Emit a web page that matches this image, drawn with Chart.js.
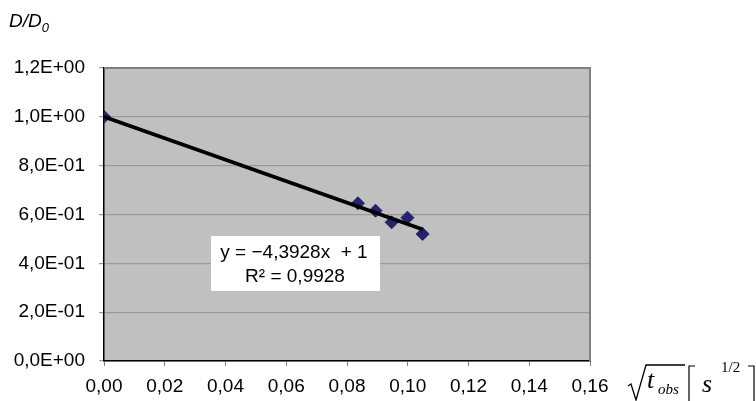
<!DOCTYPE html>
<html>
<head>
<meta charset="utf-8">
<script src="https://cdn.jsdelivr.net/npm/chart.js@4"></script>
<style>
  html, body { margin: 0; padding: 0; background: #fff; }
  #wrap { width: 756px; height: 401px; position: relative; }
</style>
</head>
<body>
<div id="wrap"><canvas id="chart" width="756" height="401"></canvas></div>
<script>
// measured points
const xVals = [0, 0.0836, 0.0894, 0.0947, 0.0999, 0.1049];
const yVals = [1.0, 0.646, 0.6155, 0.568, 0.587, 0.52];
// linear trend endpoints (y = -4,3928x + 1)
const trendX = [0, 0.105];
const trendY = [1.0, 0.5388];
const trendText = ['y = \u22124,3928x  + 1', 'R\u00b2 = 0,9928'];

const ctx = document.getElementById('chart');
const FONT = '"Liberation Sans", Arial, sans-serif';
const SERIF = '"Liberation Serif", "Times New Roman", serif';

function sciLabel(v) {
  let s = Number(v).toExponential(1);
  let parts = s.split('e');
  let exp = parseInt(parts[1]);
  let sign = exp < 0 ? '-' : '+';
  let e = String(Math.abs(exp)).padStart(2, '0');
  return parts[0].replace('.', ',') + 'E' + sign + e;
}

const decor = {
  id: 'decor',
  beforeDraw(chart) {
    const a = chart.chartArea;
    const c = chart.ctx;
    c.save();
    c.fillStyle = '#c0c0c0';
    c.fillRect(a.left, a.top, a.right - a.left, a.bottom - a.top);
    c.restore();
  },
  afterDatasetsDraw(chart) {
    const a = chart.chartArea;
    const c = chart.ctx;
    c.save();
    // top & right border
    c.strokeStyle = '#808080';
    c.lineWidth = 2;
    c.beginPath();
    c.moveTo(a.left, a.top);
    c.lineTo(a.right, a.top);
    c.lineTo(a.right, a.bottom);
    c.stroke();

    // equation box
    c.fillStyle = '#ffffff';
    c.fillRect(211, 236, 169, 55);
    c.fillStyle = '#000';
    c.font = '19px ' + FONT;
    c.textAlign = 'center';
    c.textBaseline = 'middle';
    c.fillText(trendText[0], 294, 253);
    c.fillText(trendText[1], 295, 277);

    // y axis title
    c.textAlign = 'left';
    c.font = 'italic 19px ' + FONT;
    c.fillText('D/D', 9, 22);
    const w = c.measureText('D/D').width;
    c.font = 'italic 13px ' + FONT;
    c.fillText('0', 9 + w, 28);

    // x axis title: sqrt(t_obs) [s^1/2]
    c.strokeStyle = '#000';
    c.lineWidth = 1.3;
    c.beginPath();
    c.moveTo(628, 386);
    c.lineTo(631, 384);
    c.lineTo(636, 400);
    c.lineTo(646, 365);
    c.lineTo(685, 365);
    c.stroke();
    c.textBaseline = 'alphabetic';
    c.font = 'italic 26px ' + SERIF;
    c.fillText('t', 647, 388);
    c.font = 'italic 15px ' + SERIF;
    c.fillText('obs', 658, 394);
    // brackets
    c.lineWidth = 1.2;
    c.beginPath();
    c.moveTo(695, 366); c.lineTo(689, 366); c.lineTo(689, 401);
    c.moveTo(748, 366); c.lineTo(754, 366); c.lineTo(754, 401);
    c.stroke();
    c.font = 'italic 26px ' + SERIF;
    c.fillText('s', 702, 392);
    c.font = '15px ' + SERIF;
    c.fillText('1/2', 721, 372);
    c.restore();
  }
};

new Chart(ctx, {
  type: 'scatter',
  data: {
    datasets: [
      {
        label: 'trend',
        type: 'line',
        data: trendX.map((x, i) => ({ x: x, y: trendY[i] })),
        borderColor: '#000000',
        borderWidth: 3.8,
        pointRadius: 0,
        order: 0
      },
      {
        label: 'D/D0',
        data: xVals.map((x, i) => ({ x: x, y: yVals[i] })),
        pointStyle: 'rectRot',
        pointRadius: 6.5,
        pointBackgroundColor: '#24246e',
        pointBorderColor: '#24246e',
        order: 1
      }
    ]
  },
  options: {
    responsive: false,
    animation: false,
    layout: { padding: { left: 0, right: 166, top: 68, bottom: 0 } },
    plugins: { legend: { display: false }, tooltip: { enabled: false } },
    scales: {
      x: {
        type: 'linear',
        min: 0, max: 0.16,
        afterFit(s) { s.height = 40; },
        border: { color: '#000', width: 1.5 },
        grid: { drawOnChartArea: false, tickLength: 5, color: '#808080' },
        ticks: {
          stepSize: 0.02,
          padding: 9,
          maxRotation: 0,
          color: '#000',
          font: { family: FONT, size: 19 },
          callback: v => v.toFixed(2).replace('.', ',')
        }
      },
      y: {
        min: 0, max: 1.2,
        afterFit(s) { s.width = 104; },
        border: { color: '#000', width: 1.5 },
        grid: { color: '#9a9a9a', tickLength: 5, lineWidth: 1.2 },
        ticks: {
          stepSize: 0.2,
          padding: 14,
          color: '#000',
          font: { family: FONT, size: 19 },
          callback: v => sciLabel(v)
        }
      }
    }
  },
  plugins: [decor]
});
</script>
</body>
</html>
